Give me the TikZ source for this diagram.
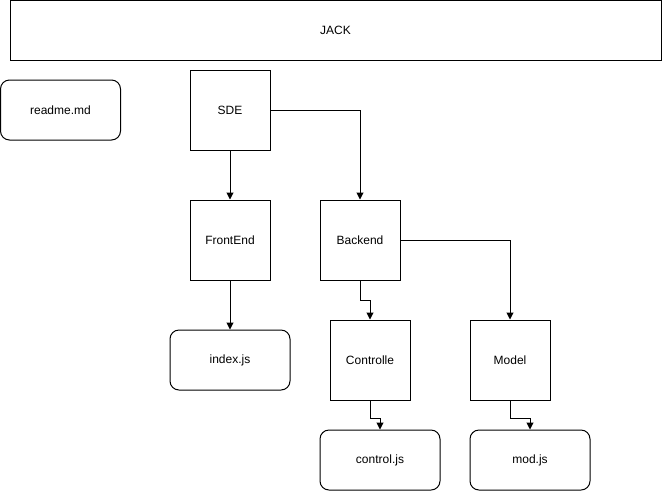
\documentclass[tikz,border=0pt]{standalone}
\usepackage{fontspec}
\setmainfont{Liberation Sans}
\usetikzlibrary{arrows.meta}
\begin{document}
\begin{tikzpicture}[x=1pt,y=-1pt,
  box/.style={draw,line width=1pt,minimum width=80pt,minimum height=80pt,inner sep=0pt,font=\fontsize{12}{14}\selectfont},
  rbox/.style={draw,line width=1pt,rounded corners=9pt,minimum width=120pt,minimum height=60pt,inner sep=0pt,font=\fontsize{12}{14}\selectfont},
  conn/.style={line width=1pt,-{Triangle[length=7pt,width=7pt]}}]
\useasboundingbox (0,0) rectangle (671,491);
\node[draw,line width=1pt,minimum width=651pt,minimum height=59.5pt,inner sep=0pt,font=\fontsize{12}{14}\selectfont] (jack) at (335.5,30.25) {JACK};
\node[rbox] (readme) at (60.5,110) {readme.md};
\node[box] (sde) at (230,110) {SDE};
\node[box] (fe) at (230,240) {FrontEnd};
\node[box] (be) at (360,240) {Backend};
\node[rbox] (index) at (230,360) {index.js};
\node[box] (ctl) at (370,360) {Controlle};
\node[box] (model) at (510,360) {Model};
\node[rbox] (cjs) at (380,460) {control.js};
\node[rbox] (mjs) at (530,460) {mod.js};
\draw[conn] (sde.south) -- (fe.north);
\draw[conn] (sde.east) -| (be.north);
\draw[conn] (fe.south) -- (index.north);
\draw[conn] (be.south) -- ++(0,20) -| (ctl.north);
\draw[conn] (be.east) -| (model.north);
\draw[conn] (ctl.south) -- ++(0,18) -| (cjs.north);
\draw[conn] (model.south) -- ++(0,18) -| (mjs.north);
\end{tikzpicture}
\end{document}
